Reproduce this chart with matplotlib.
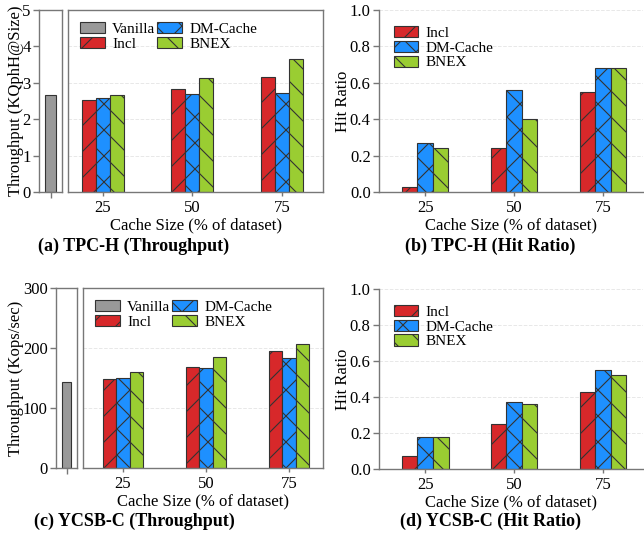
import matplotlib
matplotlib.use("Agg")
import matplotlib.pyplot as plt
from matplotlib.patches import Patch
import numpy as np

# ----------------------------------------------------------------------
#  Data
# ----------------------------------------------------------------------
cache_sizes = ["25", "50", "75"]
series_names = ["Incl", "DM-Cache", "BNEX"]

tpch_vanilla = 2.66
tpch_tput_incl = [2.53, 2.82, 3.17]
tpch_tput_dm = [2.57, 2.69, 2.73]
tpch_tput_bnex = [2.67, 3.12, 3.66]

tpch_hit_incl = [0.03, 0.24, 0.55]
tpch_hit_dm = [0.27, 0.56, 0.68]
tpch_hit_bnex = [0.24, 0.40, 0.68]

ycsb_vanilla = 144
ycsb_tput_incl = [148, 168, 195]
ycsb_tput_dm = [150, 167, 183]
ycsb_tput_bnex = [160, 185, 207]

ycsb_hit_incl = [0.07, 0.25, 0.43]
ycsb_hit_dm = [0.18, 0.37, 0.55]
ycsb_hit_bnex = [0.18, 0.36, 0.52]

# ----------------------------------------------------------------------
#  Style
# ----------------------------------------------------------------------
colors = ["#d7282a", "#1e90ff", "#9acd32"]
hatches = ["/", "x", "\\"]
vanilla_color = "#999999"
edge = "#333333"
spine_c = "#777777"

# low dpi gives the wider hatch spacing of the original; sizes scaled back
DPI = 78
S = 100.0 / DPI

plt.rcParams["font.family"] = ["Liberation Serif", "DejaVu Serif"]
plt.rcParams["font.size"] = 12 * S
plt.rcParams["hatch.linewidth"] = 0.8 * S
plt.rcParams["hatch.color"] = "#222222"

W, H = 644, 548
fig = plt.figure(figsize=(W / DPI, H / DPI), dpi=DPI)


def px_axes(x0, y0, x1, y1):
    return fig.add_axes([x0 / W, 1 - y1 / H, (x1 - x0) / W, (y1 - y0) / H])


def style_spines(ax, box=True):
    for s in ax.spines.values():
        s.set_color(spine_c)
        s.set_linewidth(1.0 * S)
    if not box:
        ax.spines["top"].set_visible(False)
        ax.spines["right"].set_visible(False)


def grid_lines(ax):
    ax.yaxis.grid(True, linestyle="--", color="#e8e8e8", linewidth=0.7 * S)
    ax.set_axisbelow(True)


def draw_groups(ax, series, width):
    x = np.arange(len(cache_sizes))
    for i, vals in enumerate(series):
        ax.bar(x + (i - 1) * width, vals, width, color=colors[i],
               hatch=hatches[i], edgecolor=edge, linewidth=0.8 * S)
    ax.set_xticks(x)
    ax.set_xticklabels(cache_sizes)
    ax.tick_params(axis="x", length=3 * S, width=1.0 * S, color=spine_c,
                   pad=3 * S)
    ax.set_xlabel("Cache Size (% of dataset)", labelpad=1 * S)


def series_handles():
    return [Patch(facecolor=colors[i], hatch=hatches[i], edgecolor=edge,
                  linewidth=0.8 * S, label=series_names[i]) for i in range(3)]


leg_kw = dict(frameon=False, handlelength=1.6, handleheight=0.75,
              handletextpad=0.5, labelspacing=0.05, fontsize=11 * S)


def throughput_panel(van_box, main_box, vanilla, series, ymax, yticks,
                     ylabel, xlim, width):
    axv = px_axes(*van_box)
    axv.bar([0], [vanilla], 0.95, color=vanilla_color, edgecolor=edge,
            linewidth=0.8 * S)
    axv.set_xlim(-1, 1)
    axv.set_ylim(0, ymax)
    axv.set_yticks(yticks)
    axv.set_xticks([0])
    axv.set_xticklabels([""])
    axv.tick_params(axis="x", length=4 * S, width=1.0 * S, color=spine_c)
    axv.tick_params(axis="y", length=4 * S, width=1.0 * S, color=spine_c,
                    pad=2 * S)
    axv.set_ylabel(ylabel, labelpad=-1 * S)
    style_spines(axv)

    ax = px_axes(*main_box)
    grid_lines(ax)
    draw_groups(ax, series, width)
    ax.set_xlim(*xlim)
    ax.set_ylim(0, ymax)
    ax.set_yticks(yticks)
    ax.tick_params(axis="y", length=0, labelleft=False)
    style_spines(ax)

    sh = series_handles()
    handles = [Patch(facecolor=vanilla_color, edgecolor=edge,
                     linewidth=0.8 * S, label="Vanilla"), sh[0], sh[1], sh[2]]
    ax.legend(handles=handles, ncol=2, loc="upper left", columnspacing=0.1,
              borderaxespad=0.4, **leg_kw)


def hit_panel(box, series, xlim, width):
    ax = px_axes(*box)
    grid_lines(ax)
    draw_groups(ax, series, width)
    ax.set_xlim(*xlim)
    ax.set_ylim(0, 1.0)
    ax.set_yticks([0, 0.2, 0.4, 0.6, 0.8, 1.0])
    ax.set_yticklabels(["0.0", "0.2", "0.4", "0.6", "0.8", "1.0"])
    ax.tick_params(axis="y", length=4 * S, width=1.0 * S, color=spine_c,
                   pad=2 * S)
    ax.set_ylabel("Hit Ratio", labelpad=-1 * S)
    style_spines(ax, box=False)
    ax.legend(handles=series_handles(), loc="upper left", borderaxespad=0.3,
              bbox_to_anchor=(0.015, 0.97), **leg_kw)


# (a) TPC-H throughput
throughput_panel((39, 10, 62, 192), (68, 10, 323, 192), tpch_vanilla,
                 [tpch_tput_incl, tpch_tput_dm, tpch_tput_bnex], 5,
                 [0, 1, 2, 3, 4, 5], "Throughput (KQphH@Size)",
                 (-0.39, 2.46), 0.157)

# (b) TPC-H hit ratio
hit_panel((379, 10, 643, 192), [tpch_hit_incl, tpch_hit_dm, tpch_hit_bnex],
          (-0.52, 2.45), 0.174)

# (c) YCSB-C throughput
throughput_panel((56, 288, 77, 468), (83, 288, 323, 468), ycsb_vanilla,
                 [ycsb_tput_incl, ycsb_tput_dm, ycsb_tput_bnex], 300,
                 [0, 100, 200, 300], "Throughput (Kops/sec)",
                 (-0.48, 2.41), 0.16)

# (d) YCSB-C hit ratio
hit_panel((379, 289, 643, 469), [ycsb_hit_incl, ycsb_hit_dm, ycsb_hit_bnex],
          (-0.52, 2.45), 0.175)

# captions
cap_kw = dict(ha="center", va="center", fontsize=13 * S, fontweight="bold")
fig.text(134 / W, 1 - 246 / H, "(a) TPC-H (Throughput)", **cap_kw)
fig.text(490 / W, 1 - 246 / H, "(b) TPC-H (Hit Ratio)", **cap_kw)
fig.text(134 / W, 1 - 521 / H, "(c) YCSB-C (Throughput)", **cap_kw)
fig.text(490 / W, 1 - 521 / H, "(d) YCSB-C (Hit Ratio)", **cap_kw)

fig.savefig("out.png", dpi=DPI)
